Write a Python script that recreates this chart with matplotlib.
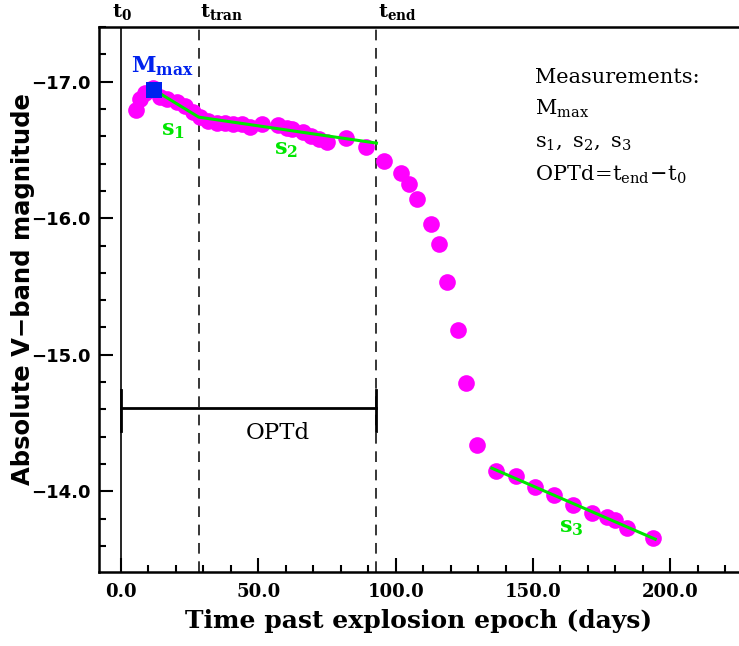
import numpy as np
import matplotlib
matplotlib.use('Agg')
from matplotlib import pyplot as plt
from matplotlib.ticker import MultipleLocator, FormatStrFormatter, FuncFormatter
import matplotlib.transforms as mtransforms

# light curve points
days = [5.4, 6.9, 8.7, 11.6, 14.2, 16.7, 20.3, 23.2, 26.1, 28.7, 31.6, 34.8,
        37.7, 40.6, 43.9, 46.8, 51.5, 57.0, 60.3, 62.4, 66.1, 69.3, 72.2,
        75.1, 82.0, 89.3, 95.8, 102.0, 104.9, 107.8, 112.9, 115.8, 118.7,
        122.7, 125.6, 129.6, 136.5, 143.7, 150.6, 157.5, 164.4, 171.3,
        176.8, 180.0, 184.4, 193.8]
mags = [-16.79, -16.87, -16.92, -16.95, -16.89, -16.87, -16.85, -16.82,
        -16.78, -16.74, -16.71, -16.70, -16.70, -16.69, -16.69, -16.67,
        -16.69, -16.68, -16.66, -16.65, -16.63, -16.60, -16.58, -16.56,
        -16.59, -16.52, -16.42, -16.33, -16.25, -16.14, -15.96, -15.81,
        -15.53, -15.18, -14.79, -14.34, -14.15, -14.11, -14.03, -13.97,
        -13.90, -13.84, -13.81, -13.79, -13.73, -13.66]

t0 = 0.0
t_tran = 28.3
t_end = 93.0
t_max = 12.0
m_max = -16.94

# fitted slopes
s12_x = [t_max, t_tran, t_end]
s12_y = [-16.94, -16.74, -16.55]
s3_x = [135.0, 194.5]
s3_y = [-14.17, -13.65]

optd_mag = -14.61

magenta = '#ff00ff'
green = '#00e600'
serif = 'DejaVu Serif'
plt.rcParams['mathtext.fontset'] = 'dejavuserif'

fig = plt.figure(figsize=(7.39, 6.46), dpi=100)
ax = fig.add_axes([0.134, 0.1146, 0.866, 0.8436])

ax.plot(days, mags, 'o', color=magenta, markersize=12, markeredgewidth=0, zorder=2)
ax.plot(s12_x, s12_y, '-', color=green, lw=2.2, zorder=3)
ax.plot(s3_x, s3_y, '-', color=green, lw=2.2, zorder=3)
ax.plot([t_max], [m_max], 's', color='#0022ee', markersize=11.5, markeredgewidth=0, zorder=4)

ax.axvline(t0, color='black', lw=1.2, zorder=1)
ax.axvline(t_tran, color='black', lw=1.1, ls=(0, (7, 5)), zorder=1)
ax.axvline(t_end, color='black', lw=1.1, ls=(0, (7, 5)), zorder=1)

# OPTd bar
ax.plot([t0, t_end], [optd_mag, optd_mag], color='black', lw=2, zorder=1)
ax.plot([t0, t0], [optd_mag - 0.13, optd_mag + 0.17], color='black', lw=2)
ax.plot([t_end, t_end], [optd_mag - 0.13, optd_mag + 0.17], color='black', lw=2)
ax.text(57, -14.43, 'OPTd', family=serif, fontsize=16.5, ha='center', va='center')

ax.set_xlim(-8, 225)
ax.set_ylim(-13.41, -17.40)

ax.xaxis.set_major_locator(MultipleLocator(50))
ax.xaxis.set_minor_locator(MultipleLocator(10))
ax.yaxis.set_major_locator(MultipleLocator(1))
ax.yaxis.set_minor_locator(MultipleLocator(0.2))
ax.xaxis.set_major_formatter(FormatStrFormatter('%.1f'))
ax.yaxis.set_major_formatter(FuncFormatter(lambda v, p: ('%.1f' % v).replace('-', '\u2212')))
ax.tick_params(which='both', direction='in', top=False, right=False, width=1.5)
ax.tick_params(which='major', length=10)
ax.tick_params(which='minor', length=5)
ax.tick_params(axis='x', labelsize=13, pad=8)
ax.tick_params(axis='y', labelsize=13, pad=6)
for lab in ax.get_xticklabels():
    lab.set_family(serif)
    lab.set_fontweight('bold')
for lab in ax.get_yticklabels():
    lab.set_fontweight('bold')
for sp in ax.spines.values():
    sp.set_linewidth(1.8)
ax.spines['right'].set_visible(False)

ax.set_xlabel('Time past explosion epoch (days)', family=serif, fontsize=18,
              fontweight='bold', labelpad=6)
ax.set_ylabel('Absolute V\u2212band magnitude', fontsize=17.5, fontweight='bold')
ax.yaxis.set_label_coords(-0.1, 0.52)

# labels of the epochs above the frame
trans = mtransforms.blended_transform_factory(ax.transData, ax.transAxes)
for tx, name in [(t0, r'$\mathbf{t_0}$'), (t_tran, r'$\mathbf{t_{tran}}$'),
                 (t_end, r'$\mathbf{t_{end}}$')]:
    ax.text(tx + 0.5, 1.01, name, transform=trans, fontsize=14, ha='left' if tx > 0 else 'center',
            va='bottom')

ax.text(15, -17.11, r'$\mathbf{M_{max}}$', color='#0022ee', fontsize=16, ha='center', va='center')
ax.text(19, -16.64, r'$\mathbf{s_1}$', color=green, fontsize=16, ha='center', va='center')
ax.text(60, -16.50, r'$\mathbf{s_2}$', color=green, fontsize=16, ha='center', va='center')
ax.text(164, -13.73, r'$\mathbf{s_3}$', color=green, fontsize=16, ha='center', va='center')

ax.text(150.6, -17.03, 'Measurements:', family=serif, fontsize=15,
        ha='left', va='center')
ax.text(150.6, -16.80, r'$\mathrm{M_{max}}$', fontsize=15, ha='left', va='center')
ax.text(150.6, -16.56, r'$\mathrm{s_1,\ s_2,\ s_3}$', fontsize=15, ha='left', va='center')
ax.text(150.6, -16.32, r'$\mathrm{OPTd\!=\!t_{end}\!-\!t_0}$', fontsize=15, ha='left', va='center')

fig.savefig('out.png', dpi=100)
